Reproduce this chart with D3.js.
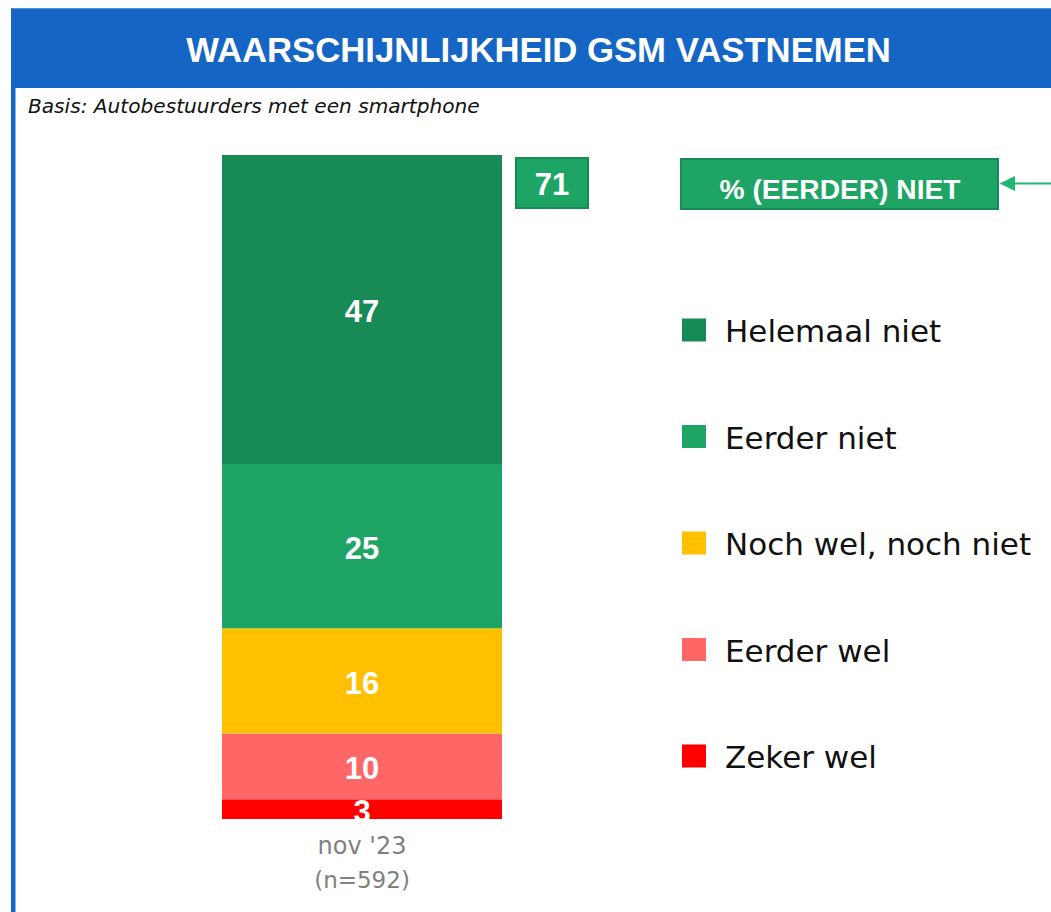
<!DOCTYPE html>
<html>
<head>
<meta charset="utf-8">
<script src="https://cdn.jsdelivr.net/npm/d3@7"></script>
<style>
  html, body { margin: 0; padding: 0; background: #ffffff; }
  svg { display: block; }
</style>
</head>
<body>
<div id="chart"></div>
<script>
// ---------- data ----------
const title = "WAARSCHIJNLIJKHEID GSM VASTNEMEN";
const subtitle = "Basis: Autobestuurders met een smartphone";
const categories = ["nov '23"];
const categorySample = ["(n=592)"];
// series listed bottom -> top of the stack
const seriesNames = ["Zeker wel", "Eerder wel", "Noch wel, noch niet", "Eerder niet", "Helemaal niet"];
const seriesValues = [3, 10, 16, 25, 47];
const seriesColors = ["#FF0000", "#FF6666", "#FFC000", "#1EA566", "#178A55"];
const netNietLabel = "% (EERDER) NIET";
const netNietValues = [71];

// ---------- layout ----------
const W = 1051, H = 912;
const svg = d3.select("#chart").append("svg").attr("width", W).attr("height", H);

function fitWidth(sel, target) {
  const w = sel.node().getComputedTextLength();
  const fs = parseFloat(sel.attr("font-size"));
  sel.attr("font-size", (fs * target / w).toFixed(2));
  return sel;
}

// header band + left frame line
svg.append("rect").attr("x", 12).attr("y", 8).attr("width", W - 12).attr("height", 80).attr("fill", "#1565C4");
svg.append("rect").attr("x", 11).attr("y", 8).attr("width", 4.5).attr("height", H - 8).attr("fill", "#1565C4");
svg.append("line").attr("x1", 12).attr("x2", W).attr("y1", 8.5).attr("y2", 8.5).attr("stroke", "#5A92D8").attr("stroke-width", 1);

const titleT = svg.append("text").attr("x", 538.5).attr("y", 62)
  .attr("text-anchor", "middle").attr("fill", "#ffffff")
  .attr("font-family", "'Liberation Sans', Arial, sans-serif").attr("font-weight", "bold")
  .attr("font-size", 34).text(title);
fitWidth(titleT, 705);

const subT = svg.append("text").attr("x", 28).attr("y", 113)
  .attr("fill", "#111111").attr("font-style", "italic")
  .attr("font-family", "'DejaVu Sans', sans-serif").attr("font-size", 18).text(subtitle);
fitWidth(subT, 452);

// ---------- scales ----------
const total = d3.sum(seriesValues);
const x = d3.scaleBand().domain(categories).range([222, 502]).paddingInner(0).paddingOuter(0);
const y = d3.scaleLinear().domain([0, total]).range([819, 155]);

// stack
const row = {};
seriesNames.forEach((s, i) => row[s] = seriesValues[i]);
const stacked = d3.stack().keys(seriesNames)([Object.assign({ cat: categories[0] }, row)]);
const color = d3.scaleOrdinal().domain(seriesNames).range(seriesColors);

const g = svg.append("g");
const layers = g.selectAll("g.layer").data(stacked).join("g").attr("class", "layer")
  .attr("fill", d => color(d.key));
layers.selectAll("rect").data(d => d).join("rect")
  .attr("x", d => x(d.data.cat))
  .attr("width", x.bandwidth())
  .attr("y", d => y(d[1]))
  .attr("height", d => y(d[0]) - y(d[1]));

// value labels
g.selectAll("text.val").data(stacked).join("text").attr("class", "val")
  .attr("x", d => x(d[0].data.cat) + x.bandwidth() / 2)
  .attr("y", d => (y(d[0][0]) + y(d[0][1])) / 2 + 13)
  .attr("text-anchor", "middle").attr("fill", "#ffffff")
  .attr("font-family", "'Liberation Sans', Arial, sans-serif").attr("font-weight", "bold")
  .attr("font-size", 31)
  .text(d => d[0][1] - d[0][0]);

// category axis
const xAxis = d3.axisBottom(x).tickSize(0).tickPadding(0);
const ax = svg.append("g").attr("transform", `translate(0, ${y(0)})`).call(xAxis);
ax.select(".domain").remove();
ax.selectAll(".tick text").each(function (d, i) {
  const t = d3.select(this);
  t.text(null).attr("fill", "#7F7F7F").attr("font-family", "'DejaVu Sans', sans-serif")
    .attr("font-size", 24).attr("dy", null).attr("y", 0);
  t.append("tspan").attr("x", 0).attr("y", 35).text(d);
  t.append("tspan").attr("x", 0).attr("y", 69).attr("font-size", 23).text(categorySample[i]);
});

// net "niet" box above-right of bar
const netBox = svg.append("g");
netBox.append("rect").attr("x", x.range()[1] + 14).attr("y", 158).attr("width", 72).attr("height", 50)
  .attr("fill", "#1EA566").attr("stroke", "#178A55").attr("stroke-width", 2);
netBox.append("text").attr("x", x.range()[1] + 50).attr("y", 195)
  .attr("text-anchor", "middle").attr("fill", "#ffffff")
  .attr("font-family", "'Liberation Sans', Arial, sans-serif").attr("font-weight", "bold")
  .attr("font-size", 31).text(netNietValues[0]);

// header box "% (EERDER) NIET" + arrow
const hb = svg.append("g");
hb.append("rect").attr("x", 681).attr("y", 159).attr("width", 317).attr("height", 50)
  .attr("fill", "#1EA566").attr("stroke", "#178A55").attr("stroke-width", 2);
const hbT = hb.append("text").attr("x", 840).attr("y", 199)
  .attr("text-anchor", "middle").attr("fill", "#ffffff")
  .attr("font-family", "'Liberation Sans Narrow', 'Liberation Sans', Arial, sans-serif").attr("font-weight", "bold")
  .attr("font-size", 30).text(netNietLabel);
fitWidth(hbT, 241);
hb.append("line").attr("x1", 1013).attr("x2", W).attr("y1", 183.5).attr("y2", 183.5)
  .attr("stroke", "#22B573").attr("stroke-width", 2);
hb.append("path").attr("d", "M999.5,183.5 L1015,176 L1015,191 Z").attr("fill", "#22B573");

// legend (top to bottom = top of stack first)
const legendOrder = seriesNames.slice().reverse();
const ly = d3.scalePoint().domain(legendOrder).range([330, 756]);
const leg = svg.append("g").selectAll("g").data(legendOrder).join("g")
  .attr("transform", d => `translate(682, ${ly(d)})`);
leg.append("rect").attr("x", 0).attr("y", -11.5).attr("width", 24).attr("height", 23)
  .attr("fill", d => color(d));
leg.append("text").attr("x", 43).attr("y", 12)
  .attr("fill", "#111111").attr("font-family", "'DejaVu Sans', sans-serif")
  .attr("font-size", 31).text(d => d);
</script>
</body>
</html>
